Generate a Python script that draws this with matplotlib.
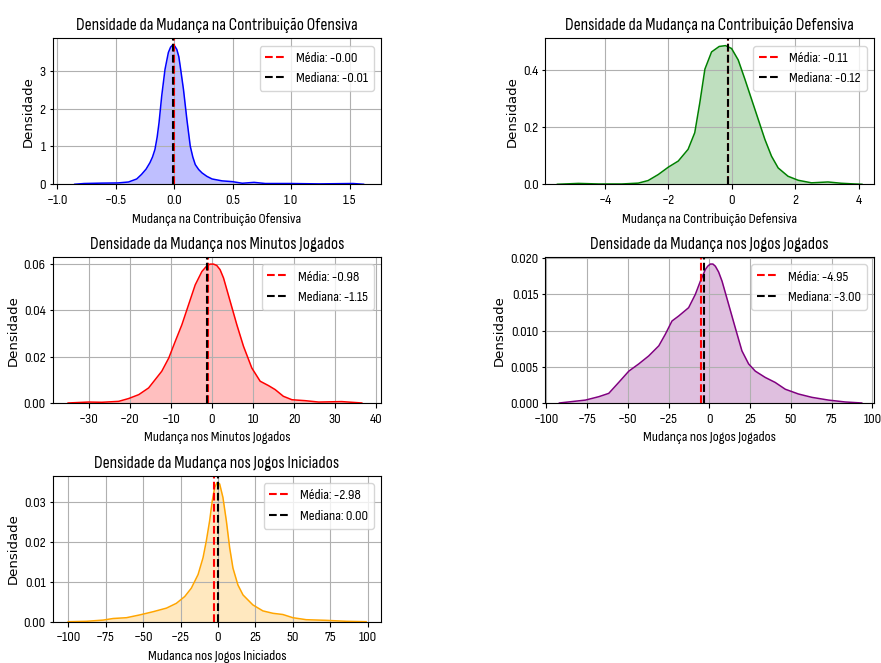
import matplotlib
matplotlib.use('Agg')
import matplotlib.pyplot as plt
from matplotlib.ticker import MultipleLocator

plt.rcParams['font.family'] = ['Sofia Sans Condensed', 'DejaVu Sans']

titles = ['Densidade da Mudança na Contribuição Ofensiva',
          'Densidade da Mudança na Contribuição Defensiva',
          'Densidade da Mudança nos Minutos Jogados',
          'Densidade da Mudança nos Jogos Jogados',
          'Densidade da Mudança nos Jogos Iniciados']
xlabels = ['Mudança na Contribuição Ofensiva',
           'Mudança na Contribuição Defensiva',
           'Mudança nos Minutos Jogados',
           'Mudança nos Jogos Jogados',
           'Mudanca nos Jogos Iniciados']
colors = ['blue', 'green', 'red', 'purple', 'orange']
means = [-0.00, -0.11, -0.98, -4.95, -2.98]
medians = [-0.01, -0.12, -1.15, -3.00, 0.00]

# density curves
x1 = [-0.85, -0.77, -0.62, -0.48, -0.39, -0.32, -0.279, -0.24, -0.207, -0.185, -0.164,
      -0.145, -0.129, -0.106, -0.078, -0.06, -0.049, -0.03, -0.014, 0.005, 0.023,
      0.04, 0.052, 0.08, 0.109, 0.138, 0.16, 0.181, 0.21, 0.239, 0.28, 0.325,
      0.41, 0.497, 0.583, 0.684, 0.78, 0.99, 1.24, 1.53, 1.62]
y1 = [0.0, 0.02, 0.03, 0.035, 0.06, 0.14, 0.26, 0.40, 0.57, 0.72, 0.92,
      1.25, 1.63, 2.34, 3.04, 3.32, 3.49, 3.63, 3.68, 3.66, 3.57,
      3.38, 3.13, 2.51, 1.72, 1.01, 0.72, 0.52, 0.39, 0.30, 0.21, 0.14,
      0.09, 0.07, 0.027, 0.05, 0.02, 0.02, 0.01, 0.02, 0.0]

x2 = [-5.5, -4.84, -4.2, -3.47, -2.95, -2.64, -2.32, -2.0, -1.69, -1.38, -1.17,
      -1.01, -0.85, -0.64, -0.4, -0.2, -0.01, 0.2, 0.41, 0.62, 0.83, 1.04, 1.25,
      1.46, 1.77, 2.09, 2.51, 3.03, 3.45, 3.87, 4.1]
y2 = [0.0, 0.003, 0.001, 0.001, 0.004, 0.013, 0.034, 0.06, 0.081, 0.122, 0.18,
      0.285, 0.402, 0.462, 0.481, 0.484, 0.474, 0.434, 0.367, 0.297, 0.227, 0.157, 0.098,
      0.057, 0.028, 0.014, 0.005, 0.008, 0.0035, 0.001, 0.0]

x3 = [-35, -30, -26.8, -22.7, -20.3, -17.8, -15.4, -13.8, -12.2, -10.5, -8.92,
      -7.3, -5.68, -4.06, -2.43, -1.2, -0.4, 0.4, 1.2, 2.0, 2.84, 4.46, 6.08, 7.7,
      9.73, 11.76, 13.8, 15.4, 17.4, 19.5, 22.7, 26, 31.6, 36.5]
y3 = [0.0, 0.0004, 0.0003, 0.0007, 0.0019, 0.0036, 0.0065, 0.0101, 0.0137, 0.0194, 0.0266,
      0.0338, 0.0424, 0.051, 0.0568, 0.0593, 0.0600, 0.0600, 0.0594, 0.0576, 0.054, 0.0439, 0.0338, 0.0245,
      0.0151, 0.0094, 0.0075, 0.0058, 0.0029, 0.0014, 0.001, 0.0004, 0.0006, 0.0]

x4 = [-92, -84, -76, -67.8, -61.7, -55.6, -49.4, -43.3, -37.2, -31, -27, -22.9,
      -18.8, -12.7, -8.6, -5.5, -2.45, -1.0, 0.6, 2.2, 3.7, 5.7, 7.8, 11.85, 15.9, 20,
      24.1, 28.2, 34.3, 40.4, 46.6, 54.7, 62.9, 73.1, 83.3, 93.5]
y4 = [0.0, 0.0002, 0.0004, 0.00087, 0.00133, 0.00284, 0.0044, 0.0054, 0.0065, 0.0079, 0.0095, 0.01133,
      0.01202, 0.01317, 0.0150, 0.01683, 0.01844, 0.0189, 0.0192, 0.0192, 0.0189, 0.0181, 0.01683, 0.01362, 0.0104, 0.0072,
      0.0054, 0.0044, 0.00353, 0.00284, 0.0019, 0.00124, 0.00078, 0.0004, 0.00014, 0.0]

x5 = [-100, -87.8, -76.7, -70, -61.1, -52.2, -43.3, -34.4, -27.8, -22.2, -17.8, -13.3,
      -10, -7.8, -5.6, -3.8, -2.2, -0.7, 1.1, 3.3, 5.6, 7.8, 10, 13.3, 16.7, 23.3,
      30, 36.7, 43.3, 50, 58.9, 72.2, 85.6, 98.9]
y5 = [0.0, 0.0001, 0.0004, 0.0008, 0.001, 0.0017, 0.0025, 0.0034, 0.0046, 0.0063, 0.0084, 0.0118,
      0.016, 0.0202, 0.0252, 0.0303, 0.0336, 0.0348, 0.0345, 0.0311, 0.0252, 0.0185, 0.0134, 0.0092, 0.0067, 0.0042,
      0.0027, 0.0021, 0.0018, 0.001, 0.0005, 0.00034, 0.0001, 0.0]

curves = [(x1, y1), (x2, y2), (x3, y3), (x4, y4), (x5, y5)]
xlims = [(-1.04, 1.77), (-5.88, 4.48), (-38.8, 41.2), (-100.6, 101), (-110.5, 108.9)]
ylims = [(0, 3.86), (0, 0.509), (0, 0.063), (0, 0.02015), (0, 0.0365)]
xsteps = [0.5, 2, 10, 25, 25]
ysteps = [1, 0.2, 0.02, 0.005, 0.01]

fig, axes = plt.subplots(3, 2, figsize=(8.81, 6.63), dpi=100)
plt.subplots_adjust(left=0.0596, right=0.992, bottom=0.0623, top=0.942,
                    wspace=0.5, hspace=0.5)
axes = axes.flatten()

for i, ax in enumerate(axes[:5]):
    xs, ys = curves[i]
    ax.fill_between(xs, ys, color=colors[i], alpha=0.25, linewidth=0)
    ax.plot(xs, ys, color=colors[i], linewidth=1.1)
    ax.axvline(means[i], color='red', linestyle='--', linewidth=1.5,
               label=f'Média: {means[i]:.2f}')
    ax.axvline(medians[i], color='black', linestyle='--', linewidth=1.5,
               label=f'Mediana: {medians[i]:.2f}')
    ax.set_xlim(xlims[i])
    ax.set_ylim(ylims[i])
    ax.xaxis.set_major_locator(MultipleLocator(xsteps[i]))
    ax.yaxis.set_major_locator(MultipleLocator(ysteps[i]))
    ax.set_title(titles[i], fontsize=12.5)
    ax.set_xlabel(xlabels[i], fontsize=10.5)
    ax.set_ylabel('Densidade', fontsize=9.5, family='DejaVu Sans', labelpad=3)
    ax.tick_params(labelsize=10.5)
    ax.tick_params(axis='y', length=2.5, pad=2.5)
    ax.grid(True)
    ax.legend(loc='upper right', fontsize=10.5, handlelength=1.5, handletextpad=0.6)

axes[5].axis('off')

plt.savefig('out.png', dpi=100)
